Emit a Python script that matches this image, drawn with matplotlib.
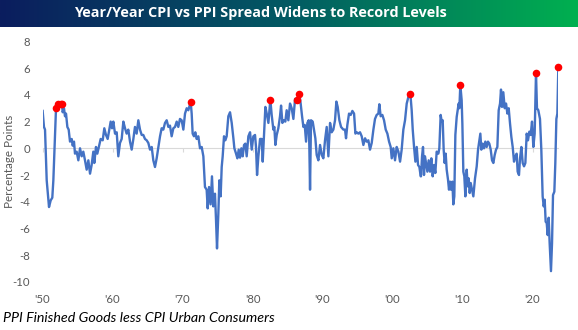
import numpy as np
import matplotlib.pyplot as plt
from matplotlib.colors import LinearSegmentedColormap

# spread (percentage points), monthly-ish vertices
years = [1950.02, 1950.21, 1950.36, 1950.60, 1950.93, 1951.17, 1951.40, 1951.55, 1951.79, 1951.93,
         1952.02, 1952.26, 1952.60, 1952.79, 1952.88, 1953.07, 1953.21, 1953.36, 1953.55, 1953.74,
         1953.93, 1954.17, 1954.31, 1954.50, 1954.64, 1954.88, 1955.12, 1955.36, 1955.60, 1955.83,
         1956.07, 1956.31, 1956.55, 1956.79, 1957.02, 1957.26, 1957.40, 1957.64, 1957.83, 1958.12,
         1958.31, 1958.60, 1958.83, 1959.07, 1959.31, 1959.55, 1959.74, 1959.93, 1960.12, 1960.36,
         1960.60, 1960.83, 1961.07, 1961.31, 1961.55, 1961.79, 1962.02, 1962.26, 1962.50, 1962.74,
         1962.98, 1963.21, 1963.45, 1963.69, 1963.93, 1964.17, 1964.40, 1964.64, 1964.88, 1965.12,
         1965.36, 1965.60, 1965.83, 1966.07, 1966.31, 1966.55, 1966.79, 1967.02, 1967.26, 1967.50,
         1967.74, 1967.98, 1968.21, 1968.45, 1968.69, 1968.93, 1969.17, 1969.40, 1969.64, 1969.88,
         1970.12, 1970.36, 1970.60, 1970.83, 1971.17, 1971.31, 1971.45, 1971.64, 1971.83, 1972.02,
         1972.26, 1972.50, 1972.74, 1972.98, 1973.21, 1973.45, 1973.60, 1973.79, 1974.02, 1974.21,
         1974.40, 1974.64, 1974.79, 1974.93, 1975.12, 1975.26, 1975.45, 1975.60, 1975.74, 1975.93,
         1976.12, 1976.31, 1976.55, 1976.79,
         1977.03, 1977.27, 1977.41, 1977.65, 1977.84, 1978.03, 1978.22, 1978.41, 1978.60, 1978.79,
         1978.98, 1979.17, 1979.41, 1979.65, 1979.89, 1980.12, 1980.36, 1980.50, 1980.65, 1980.84,
         1981.08, 1981.31, 1981.46, 1981.65, 1981.84, 1982.03, 1982.27, 1982.55, 1982.74, 1982.98,
         1983.12, 1983.27, 1983.46, 1983.69, 1983.93, 1984.08, 1984.27, 1984.50, 1984.69, 1984.88,
         1985.12, 1985.36, 1985.60, 1985.84, 1986.08, 1986.36, 1986.69, 1986.88, 1987.08, 1987.27,
         1987.46, 1987.65, 1987.84, 1988.03, 1988.12, 1988.22, 1988.36, 1988.60, 1988.79, 1988.98,
         1989.17, 1989.41, 1989.65, 1989.89, 1990.12, 1990.36, 1990.60, 1990.84, 1991.08, 1991.31,
         1991.55, 1991.79, 1991.98, 1992.17, 1992.41, 1992.65, 1992.98, 1993.22, 1993.36, 1993.55,
         1993.79, 1994.03, 1994.27, 1994.51, 1994.70, 1994.89, 1995.12, 1995.36, 1995.60, 1995.84,
         1996.08, 1996.31, 1996.55, 1996.79, 1997.03, 1997.27, 1997.50, 1997.74, 1997.98, 1998.12,
         1998.31, 1998.55, 1998.79, 1999.03, 1999.27, 1999.51, 1999.74, 1999.89, 2000.12, 2000.36,
         2000.60, 2000.84, 2001.08, 2001.31, 2001.55, 2001.79, 2002.03, 2002.27, 2002.55, 2002.74,
         2002.89, 2003.08, 2003.27, 2003.46, 2003.65, 2003.84, 2004.03,
         2004.07, 2004.22, 2004.36, 2004.50, 2004.64, 2004.79, 2004.98, 2005.17, 2005.36, 2005.55,
         2005.74, 2005.93, 2006.12, 2006.31, 2006.55, 2006.69, 2006.88, 2007.03, 2007.17, 2007.31,
         2007.45, 2007.60, 2007.74, 2007.93, 2008.07, 2008.22, 2008.36, 2008.55, 2008.69, 2008.83,
         2008.98, 2009.17, 2009.31, 2009.45, 2009.55, 2009.69, 2009.88, 2009.98, 2010.12, 2010.26,
         2010.41, 2010.60, 2010.74, 2010.88, 2011.03, 2011.17, 2011.36, 2011.55, 2011.79, 2012.03,
         2012.22, 2012.41, 2012.55, 2012.69, 2012.88, 2013.07, 2013.26, 2013.45, 2013.64, 2013.83,
         2014.03, 2014.22, 2014.41, 2014.60, 2014.79, 2014.98, 2015.17, 2015.36, 2015.50, 2015.64,
         2015.83, 2016.03, 2016.22, 2016.41, 2016.60, 2016.79, 2016.98, 2017.17, 2017.36, 2017.55,
         2017.74, 2017.88, 2018.07, 2018.22, 2018.41, 2018.60, 2018.79, 2018.98, 2019.17, 2019.36,
         2019.55, 2019.74, 2019.93, 2020.12, 2020.31, 2020.50, 2020.64, 2020.83, 2021.07, 2021.26,
         2021.45, 2021.60, 2021.74, 2021.88, 2022.03, 2022.17, 2022.31, 2022.45, 2022.64, 2022.79,
         2022.93, 2023.12, 2023.26, 2023.41, 2023.55, 2023.69]
spread = [2.8, 1.6, 1.4, -2.4, -4.4, -3.9, -3.7, -2.4, 1.1, 3.0,
          3.0, 3.3, 3.3, 3.3, 2.7, 3.0, 2.4, 2.6, 1.6, 1.4,
          0.5, 0.7, 0.2, 0.5, -0.4, -0.25, -0.9, 0.0, -0.6, -0.25,
          -0.9, -1.6, -0.9, -1.9, -1.25, -0.25, -1.1, 0.1, -0.4, 0.25,
          0.7, 0.6, 1.5, 1.0, 0.7, 1.4, 2.0, 1.5, 2.0, 1.1,
          1.2, -0.6, 0.4, 0.7, 2.0, 1.5, 1.1, 1.4, 0.5, -0.1,
          0.7, 1.6, 1.1, 2.1, 1.4, 1.0, 1.0, 0.7, 0.6, 0.4,
          -0.1, 0.1, -0.9, -1.4, -0.75, 0.1, 0.9, 1.5, 1.4, 1.9,
          2.1, 1.6, 1.7, 0.9, 1.5, 1.6, 2.0, 1.6, 2.2, 2.1,
          1.4, 2.6, 3.0, 2.85, 3.48, 2.6, 1.1, 0.9, 1.2, 0.7,
          0.9, 0.0, 0.1, -0.6, -2.9, -3.1, -4.5, -2.9, -4.2, -2.1,
          -4.35, -3.4, -5.4, -7.5, -4.9, -2.4, -3.6, -1.4, -0.6, 0.9,
          0.6, 0.9, 2.4, 2.7,
          1.9, 0.75, 0.0, -0.4, -0.75, -0.1, -0.7, 0.0, -0.6, 0.25,
          0.35, -0.6, 0.9, 1.2, -0.1, 0.9, 1.0, 0.1, -2.0, -0.6,
          0.7, 0.7, -1.0, 1.1, 3.1, 2.6, 1.9, 3.65, 2.5, 1.4,
          1.6, 0.25, 1.0, 1.5, 2.4, 3.2, 1.9, 2.1, 2.0, 2.85,
          2.1, 3.35, 3.0, 2.2, 3.7, 3.65, 4.1, 3.35, 2.4, 1.6,
          1.75, 0.5, 1.9, 2.1, 0.1, -3.1, 2.1, 2.0, 1.4, 0.75,
          -0.5, -0.9, 0.25, -0.5, -0.75, 0.6, 1.6, -0.6, 1.9, 1.2,
          1.4, 2.1, 3.5, 3.1, 2.1, 1.6, 1.4, 1.4, 0.75, 1.75,
          2.6, 2.5, 2.8, 2.6, 1.1, 1.2, 1.1, 1.2, 0.9, 0.25,
          0.75, 0.5, 0.6, -0.1, 0.4, 1.4, 2.2, 2.5, 2.6, 3.3,
          2.4, 2.5, 2.1, 1.4, 1.1, 0.5, 0.1, -0.75, 0.0, -0.9,
          0.1, -0.25, -1.0, -0.1, 1.4, 2.1, 3.35, 3.85, 4.1, 2.85,
          1.4, 0.1, -1.0, 0.1, -1.25, -1.4, -2.1,
          -2.1, -0.6, 0.1, -2.0, -0.6, -1.1, -1.75, -0.9, -1.75, -0.75,
          -2.1, -1.25, -1.85, -0.25, -0.4, 0.0, 2.5, 2.0, 2.1, -0.1,
          -1.1, -0.4, -1.6, -2.35, -3.1, -2.5, -3.1, -2.5, -4.2, -3.6,
          1.0, 2.35, 2.85, 3.35, 3.0, 4.75, 3.6, 1.85, -1.75, -2.1,
          -3.6, -1.6, -2.85, -2.25, -3.35, -2.6, -3.1, -3.6, -2.25, -1.35,
          -0.1, 0.6, 1.1, -0.1, 0.35, 0.0, 0.5, 0.1, 0.5, 0.35,
          -0.1, -0.9, -1.1, -0.5, -0.1, 0.1, 2.85, 3.35, 4.4, 3.1,
          4.2, 3.0, 3.35, 2.6, 3.0, 1.85, 0.85, 0.1, -1.0, -0.6,
          -0.4, -1.75, -2.0, -0.75, 0.1, -1.1, -1.35, -1.1, 1.1, 0.6,
          1.25, 1.0, 2.0, 0.1, 1.1, 5.65, 3.0, 2.85, 2.2, -0.1,
          -3.6, -4.35, -3.85, -5.5, -5.6, -6.5, -5.2, -7.1, -9.2, -7.1,
          -3.5, -3.25, -1.1, 2.2, 2.6, 6.1]

# record highs flagged in red
rec_years = [1951.93, 1952.26, 1952.60, 1952.79, 1971.17, 1982.55, 1986.36, 1986.69,
             2002.55, 2009.69, 2020.50, 2023.69]
rec_vals = [3.0, 3.3, 3.3, 3.3, 3.48, 3.65, 3.65, 4.1, 4.1, 4.75, 5.65, 6.1]

decades = [1950, 1960, 1970, 1980, 1990, 2000, 2010, 2020]
dec_labels = ["'50", "'60", "'70", "'80", "'90", "'00", "'10", "'20"]
yticks = [-10, -8, -6, -4, -2, 0, 2, 4, 6, 8]

plt.rcParams['font.family'] = ['Lato', 'DejaVu Sans']
grey = '#595959'

fig = plt.figure(figsize=(5.78, 3.30), dpi=100)

# title banner with gradient
ban = fig.add_axes([0, 1 - 27 / 330, 1, 27 / 330])
cmap = LinearSegmentedColormap.from_list('ban', ['#0b1d5e', '#035a63', '#00b050'])
ban.imshow(np.linspace(0, 1, 256).reshape(1, -1), cmap=cmap, aspect='auto', extent=[0, 1, 0, 1])
ban.set_axis_off()
ban.text(0.451, 0.5, 'Year/Year CPI vs PPI Spread Widens to Record Levels', color='white',
         fontsize=10.4, fontweight='bold', ha='center', va='center', family=['Open Sans', 'DejaVu Sans'])

ax = fig.add_axes([42.5 / 578, 1 - 281.8 / 330, 515.9 / 578, 240.3 / 330])
ax.plot(years, spread, color='#4472c4', lw=1.7, zorder=3)
ax.scatter(rec_years, rec_vals, s=30, color='#ff0000', zorder=4, linewidths=0, clip_on=False)

ax.set_xlim(1950, 2023.7)
ax.set_ylim(-10, 8)
ax.set_yticks(yticks)
ax.set_yticklabels([str(t) for t in yticks], color=grey, fontsize=8.2)
ax.tick_params(axis='y', length=0, pad=9)

for s in ['top', 'right', 'left']:
    ax.spines[s].set_visible(False)
ax.spines['bottom'].set_position(('data', 0))
ax.spines['bottom'].set_color('#d9d9d9')
ax.set_xticks(decades)
ax.tick_params(axis='x', length=3, color='#d9d9d9', labelbottom=False)

sec = ax.secondary_xaxis(0)
sec.set_xticks(decades)
sec.set_xticklabels(dec_labels, color=grey, fontsize=8.2)
sec.tick_params(length=0, pad=9)
sec.spines['bottom'].set_visible(False)

ax.set_ylabel('Percentage Points', color=grey, fontsize=8.4)
ax.yaxis.set_label_coords(-0.053, 0.5)

fig.text(3 / 578, 1 - 318 / 330, 'PPI Finished Goods less CPI Urban Consumers', fontsize=10.3,
         style='italic', color='black', ha='left', va='center')

fig.savefig('out.png', dpi=100)
